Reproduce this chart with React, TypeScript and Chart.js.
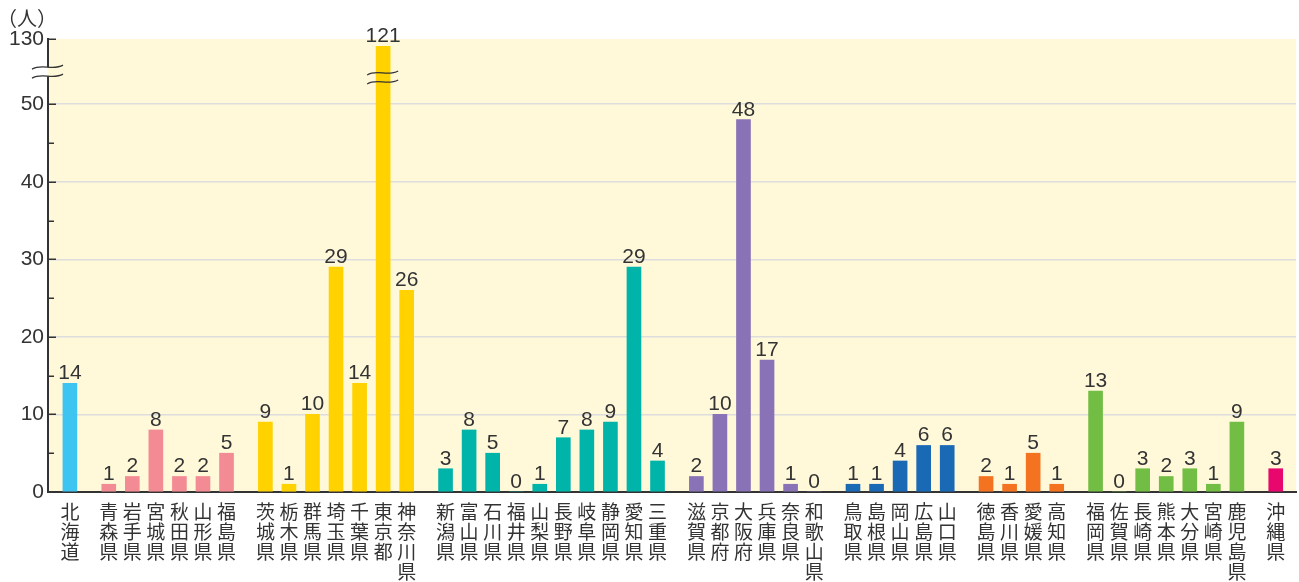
import React, { useEffect, useRef } from 'react';
import { Chart, registerables } from 'chart.js';

Chart.register(...registerables);

// ---- Data ----
const hokkaidoLabels = ['北海道'];
const hokkaidoValues = [14];
const tohokuLabels = ['青森県', '岩手県', '宮城県', '秋田県', '山形県', '福島県'];
const tohokuValues = [1, 2, 8, 2, 2, 5];
const kantoLabels = ['茨城県', '栃木県', '群馬県', '埼玉県', '千葉県', '東京都', '神奈川県'];
const kantoValues = [9, 1, 10, 29, 14, 121, 26];
const chubuLabels = ['新潟県', '富山県', '石川県', '福井県', '山梨県', '長野県', '岐阜県', '静岡県', '愛知県', '三重県'];
const chubuValues = [3, 8, 5, 0, 1, 7, 8, 9, 29, 4];
const kinkiLabels = ['滋賀県', '京都府', '大阪府', '兵庫県', '奈良県', '和歌山県'];
const kinkiValues = [2, 10, 48, 17, 1, 0];
const chugokuLabels = ['鳥取県', '島根県', '岡山県', '広島県', '山口県'];
const chugokuValues = [1, 1, 4, 6, 6];
const shikokuLabels = ['徳島県', '香川県', '愛媛県', '高知県'];
const shikokuValues = [2, 1, 5, 1];
const kyushuLabels = ['福岡県', '佐賀県', '長崎県', '熊本県', '大分県', '宮崎県', '鹿児島県'];
const kyushuValues = [13, 0, 3, 2, 3, 1, 9];
const okinawaLabels = ['沖縄県'];
const okinawaValues = [3];

const regionColors = ['#3EC4F1', '#F28B93', '#FFD200', '#00B4A9', '#8A72B6', '#1A69B4', '#F47321', '#72BE44', '#E8086D'];

const yMajorTicks = [0, 10, 20, 30, 40, 50, 130];
const yMinorTicks = [5, 15, 25, 35, 45];
const yUnitLabel = '（人）';

// ---- Broken axis helpers ----
const BREAK_AT = 50;
const TOP_VALUE = 130;
const TOP_DISPLAY = 58.4;
const disp = (v: number) => (v <= BREAK_AT ? v : BREAK_AT + ((v - BREAK_AT) * (TOP_DISPLAY - BREAK_AT)) / (TOP_VALUE - BREAK_AT));

const GAP_EXTRA = 0.65;

const groups = [
  { labels: hokkaidoLabels, values: hokkaidoValues },
  { labels: tohokuLabels, values: tohokuValues },
  { labels: kantoLabels, values: kantoValues },
  { labels: chubuLabels, values: chubuValues },
  { labels: kinkiLabels, values: kinkiValues },
  { labels: chugokuLabels, values: chugokuValues },
  { labels: shikokuLabels, values: shikokuValues },
  { labels: kyushuLabels, values: kyushuValues },
  { labels: okinawaLabels, values: okinawaValues },
];

const allLabels: string[] = [];
const allValues: number[] = [];
const allColors: string[] = [];
const positions: number[] = [];
{
  let idx = 0;
  groups.forEach((g, gi) => {
    g.labels.forEach((lab, j) => {
      allLabels.push(lab);
      allValues.push(g.values[j]);
      allColors.push(regionColors[gi]);
      positions.push(idx + gi * GAP_EXTRA);
      idx++;
    });
  });
}

const TEXT = '#333333';
const CREAM = '#FFF9DA';
const NUM_FONT = "'Liberation Sans', Arial, sans-serif";
const CJK_FONT = "'Noto Sans CJK JP', sans-serif";

function tilde(ctx: CanvasRenderingContext2D, x0: number, x1: number, cy: number, a: number) {
  const w = x1 - x0;
  ctx.moveTo(x0, cy + 2);
  ctx.bezierCurveTo(x0 + w / 3, cy - 2 * a, x0 + (2 * w) / 3, cy + 2 * a, x1, cy - 2);
}

const decorPlugin = {
  id: 'decor',
  beforeDraw(chart: any) {
    const { ctx, chartArea } = chart;
    ctx.save();
    ctx.fillStyle = CREAM;
    ctx.fillRect(chartArea.left, chartArea.top, chartArea.right - chartArea.left, chartArea.bottom - chartArea.top);
    ctx.restore();
  },
  afterDraw(chart: any) {
    const { ctx, chartArea } = chart;
    const y = chart.scales.y;
    const left = chartArea.left;
    ctx.save();
    // tick marks pointing inward
    ctx.strokeStyle = TEXT;
    ctx.lineWidth = 1.5;
    yMajorTicks.forEach((v) => {
      if (v === 0) return;
      const py = Math.round(y.getPixelForValue(disp(v))) + 0.25;
      ctx.beginPath();
      ctx.moveTo(left, py);
      ctx.lineTo(left + 8, py);
      ctx.stroke();
    });
    yMinorTicks.forEach((v) => {
      const py = Math.round(y.getPixelForValue(disp(v))) + 0.25;
      ctx.beginPath();
      ctx.moveTo(left, py);
      ctx.lineTo(left + 6, py);
      ctx.stroke();
    });

    // value labels
    const meta = chart.getDatasetMeta(0);
    ctx.fillStyle = TEXT;
    ctx.font = `21px ${NUM_FONT}`;
    ctx.textAlign = 'center';
    ctx.textBaseline = 'alphabetic';
    meta.data.forEach((bar: any, i: number) => {
      ctx.fillText(String(allValues[i]), bar.x, bar.y - 4);
    });

    // axis break
    const p50 = y.getPixelForValue(BREAK_AT);
    const pTop = y.getPixelForValue(TOP_DISPLAY);
    const cyAxis = (p50 + pTop) / 2;
    const ax0 = left - 16;
    const ax1 = left + 15;
    ctx.save();
    ctx.beginPath();
    tilde(ctx, ax0, ax1, cyAxis - 4.5, 2);
    ctx.lineTo(ax1, cyAxis + 4.5 - 2);
    ctx.bezierCurveTo(ax0 + (2 * (ax1 - ax0)) / 3, cyAxis + 4.5 + 4, ax0 + (ax1 - ax0) / 3, cyAxis + 4.5 - 4, ax0, cyAxis + 4.5 + 2);
    ctx.closePath();
    ctx.clip();
    ctx.fillStyle = '#ffffff';
    ctx.fillRect(ax0 - 2, cyAxis - 12, left - ax0 + 2, 24);
    ctx.fillStyle = CREAM;
    ctx.fillRect(left - 0.5, cyAxis - 12, ax1 - left + 4, 24);
    ctx.restore();
    ctx.strokeStyle = TEXT;
    ctx.lineWidth = 1.3;
    ctx.beginPath();
    tilde(ctx, ax0, ax1, cyAxis - 4.5, 2);
    ctx.stroke();
    ctx.beginPath();
    tilde(ctx, ax0, ax1, cyAxis + 4.5, 2);
    ctx.stroke();

    // bar break on values above the break
    meta.data.forEach((bar: any, i: number) => {
      if (allValues[i] <= BREAK_AT) return;
      const cy = p50 - 0.41 * (p50 - pTop);
      const b0 = bar.x - 16;
      const b1 = bar.x + 15;
      ctx.strokeStyle = TEXT;
      ctx.lineWidth = 1.3;
      ctx.beginPath();
      tilde(ctx, b0, b1, cy - 4.5, 2);
      ctx.stroke();
      ctx.beginPath();
      tilde(ctx, b0, b1, cy + 4.5, 2);
      ctx.stroke();
    });

    // unit label
    ctx.fillStyle = TEXT;
    ctx.font = `20px ${CJK_FONT}`;
    ctx.textAlign = 'left';
    ctx.textBaseline = 'middle';
    ctx.fillText(yUnitLabel, -3, 18);
    ctx.restore();
  },
};

export default function App() {
  const canvasRef = useRef<HTMLCanvasElement | null>(null);

  useEffect(() => {
    document.body.style.margin = '0';
    const canvas = canvasRef.current;
    if (!canvas) return;
    const lastPos = positions[positions.length - 1];
    const chart = new Chart(canvas, {
      type: 'bar',
      data: {
        datasets: [
          {
            data: allValues.map((v, i) => ({ x: positions[i], y: disp(v) })),
            backgroundColor: allColors,
            borderWidth: 0,
            barThickness: 14,
          },
        ],
      },
      options: {
        responsive: false,
        animation: false,
        layout: { padding: { top: 39, right: 3, left: 0, bottom: 0 } },
        plugins: {
          legend: { display: false },
          tooltip: { enabled: false },
        },
        scales: {
          x: {
            type: 'linear',
            offset: false,
            min: -0.93,
            max: lastPos + 0.86,
            afterBuildTicks: (scale: any) => {
              scale.ticks = positions.map((p) => ({ value: p }));
            },
            afterFit: (scale: any) => {
              scale.height = 90;
            },
            grid: { display: false, drawTicks: false },
            border: { display: true, color: TEXT, width: 2 },
            ticks: {
              autoSkip: false,
              maxRotation: 0,
              minRotation: 0,
              padding: 10,
              color: TEXT,
              font: { family: CJK_FONT, size: 19, lineHeight: 1.05 },
              callback: (_v: any, i: number) => (allLabels[i] ? allLabels[i].split('') : ''),
            },
          },
          y: {
            type: 'linear',
            min: 0,
            max: TOP_DISPLAY,
            afterBuildTicks: (scale: any) => {
              scale.ticks = yMajorTicks.map((v) => ({ value: disp(v) }));
            },
            afterFit: (scale: any) => {
              scale.width = 48;
            },
            grid: {
              drawTicks: false,
              lineWidth: 1.5,
              color: (ctx: any) => {
                const v = ctx.tick ? ctx.tick.value : 0;
                return v > 0 && v <= BREAK_AT + 0.01 ? '#DDDDDD' : 'rgba(0,0,0,0)';
              },
            },
            border: { display: true, color: TEXT, width: 2 },
            ticks: {
              padding: 4,
              color: TEXT,
              font: { family: NUM_FONT, size: 21 },
              callback: (v: any) => {
                const n = Number(v);
                return n > BREAK_AT + 0.01 ? String(TOP_VALUE) : String(Math.round(n));
              },
            },
          },
        },
      },
      plugins: [decorPlugin],
    });
    return () => chart.destroy();
  }, []);

  return (
    <div style={{ width: 1299, height: 582 }}>
      <canvas ref={canvasRef} width={1299} height={582} />
    </div>
  );
}
